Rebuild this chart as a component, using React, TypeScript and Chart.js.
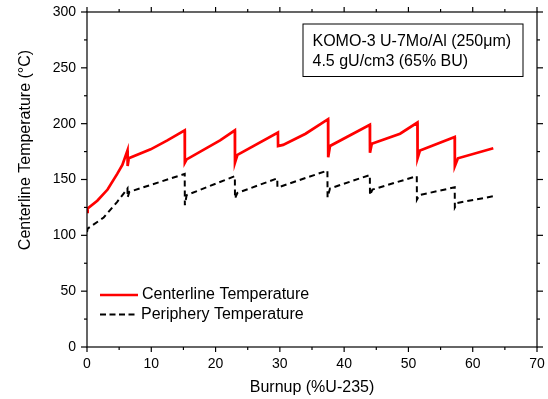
import React, { useEffect, useRef } from 'react';
import { Chart, registerables } from 'chart.js';

Chart.register(...registerables);

// ---- Data ----
const centerBurnup = [0, 0.1, 1.6, 3.2, 4.7, 5.5, 6.3, 6.32, 6.5, 9.9, 12.5, 15.2, 15.22, 15.5, 20.7, 23.0, 23.02, 23.4, 29.7, 29.72, 30.5, 34.0, 37.5, 37.52, 37.8, 44.0, 44.02, 44.3, 48.7, 51.4, 51.42, 51.8, 57.2, 57.22, 57.7, 63.2];
const centerTemp = [121, 124, 131, 141, 155, 163, 176, 162, 169, 177, 185, 194, 165, 168, 185, 194, 165, 172, 192, 180, 181, 191, 204, 170, 180, 199, 174, 182, 191, 201, 169, 176, 188, 162, 169, 178];

const periphBurnup = [0, 0.1, 2.6, 4.7, 6.3, 6.32, 6.6, 15.2, 15.22, 15.5, 23.0, 23.02, 23.4, 29.6, 29.62, 30.0, 37.4, 37.42, 37.8, 44.0, 44.02, 44.4, 51.3, 51.32, 51.7, 57.2, 57.22, 57.6, 63.2];
const periphTemp = [103, 106, 116, 130, 142, 134, 139, 155, 127, 136, 153, 133, 138, 151, 143, 143.5, 158, 134, 142, 154, 136, 141, 153, 132, 136, 143, 125, 129, 135];

const xMinorTicks = [0, 5, 10, 15, 20, 25, 30, 35, 40, 45, 50, 55, 60, 65, 70];
const yMinorTicks = [0, 25, 50, 75, 100, 125, 150, 175, 200, 225, 250, 275, 300];
const xMajorTicks = [0, 10, 20, 30, 40, 50, 60, 70];
const yMajorTicks = [0, 50, 100, 150, 200, 250, 300];

const seriesNames = ['Centerline Temperature', 'Periphery Temperature'];
const noteLines = ['KOMO-3 U-7Mo/Al (250\u03BCm)', '4.5 gU/cm3 (65% BU)'];
const xTitle = 'Burnup (%U-235)';
const yTitle = 'Centerline Temperature (\u00B0C)';

const FONT = '"Liberation Sans", Arial, Helvetica, sans-serif';
const RED = '#ff0000';
const BLACK = '#000000';

const toPoints = (xs: number[], ys: number[]) => xs.map((x, i) => ({ x, y: ys[i] }));

const decorPlugin = {
  id: 'decor',
  afterDraw(chart: any) {
    const { ctx, chartArea } = chart;
    const { left, right, top, bottom } = chartArea;
    const xs = chart.scales.x;
    const ys = chart.scales.y;
    ctx.save();
    // frame
    ctx.strokeStyle = BLACK;
    ctx.lineWidth = 1.2;
    ctx.setLineDash([]);
    ctx.strokeRect(left, top, right - left, bottom - top);
    // ticks
    const tick = (x1: number, y1: number, x2: number, y2: number) => {
      ctx.beginPath();
      ctx.moveTo(x1, y1);
      ctx.lineTo(x2, y2);
      ctx.stroke();
    };
    xMinorTicks.forEach((v) => {
      const len = xMajorTicks.includes(v) ? 5 : 3;
      const px = xs.getPixelForValue(v);
      tick(px, bottom, px, bottom + len);
      tick(px, top, px, top - len);
    });
    yMinorTicks.forEach((v) => {
      const len = yMajorTicks.includes(v) ? 6 : 3;
      const py = ys.getPixelForValue(v);
      tick(left, py, left - len, py);
      tick(right, py, right + len, py);
    });

    // axis titles
    ctx.fillStyle = BLACK;
    ctx.font = `16px ${FONT}`;
    ctx.textAlign = 'center';
    ctx.textBaseline = 'middle';
    ctx.fillText(xTitle, (left + right) / 2, bottom + 41);
    ctx.save();
    ctx.translate(26, top + (bottom - top) * 0.412);
    ctx.rotate(-Math.PI / 2);
    ctx.fillText(yTitle, 0, 0);
    ctx.restore();

    // legend
    const lx = left + 13;
    const ly1 = bottom - 52;
    const ly2 = bottom - 32.5;
    ctx.lineWidth = 2.5;
    ctx.strokeStyle = RED;
    tick(lx, ly1, lx + 38, ly1);
    ctx.lineWidth = 2;
    ctx.strokeStyle = BLACK;
    ctx.setLineDash([6, 3.5]);
    tick(lx, ly2, lx + 38, ly2);
    ctx.setLineDash([]);
    ctx.textAlign = 'left';
    ctx.fillText(seriesNames[0], lx + 42, ly1);
    ctx.fillText(seriesNames[1], lx + 41, ly2);

    // note box
    const bx = right - 234;
    const by = top + 12;
    ctx.lineWidth = 1;
    ctx.strokeRect(bx, by, 220, 52.5);
    ctx.fillText(noteLines[0], bx + 9.5, by + 17.5);
    ctx.fillText(noteLines[1], bx + 9.5, by + 37.5);
    ctx.restore();
  },
};

export default function App() {
  const ref = useRef<HTMLCanvasElement | null>(null);
  useEffect(() => {
    if (!ref.current) return;
    const chart = new Chart(ref.current, {
      type: 'line',
      data: {
        datasets: [
          {
            label: seriesNames[0],
            data: toPoints(centerBurnup, centerTemp),
            borderColor: RED,
            borderWidth: 2.7,
            pointRadius: 0,
            tension: 0,
            fill: false,
          },
          {
            label: seriesNames[1],
            data: toPoints(periphBurnup, periphTemp),
            borderColor: BLACK,
            borderWidth: 2,
            borderDash: [6, 4],
            pointRadius: 0,
            tension: 0,
            fill: false,
          },
        ],
      },
      options: {
        animation: false,
        responsive: false,
        maintainAspectRatio: false,
        layout: { padding: { top: 12, right: 11, left: 0, bottom: 0 } },
        plugins: {
          legend: { display: false },
          tooltip: { enabled: false },
          title: { display: false },
        },
        scales: {
          x: {
            type: 'linear',
            min: 0,
            max: 70,
            grid: { display: false, drawTicks: false },
            border: { display: false },
            ticks: {
              stepSize: 10,
              padding: 9,
              color: BLACK,
              font: { family: FONT, size: 14 },
              maxRotation: 0,
            },
            afterFit: (s: any) => {
              s.height = 52;
              s.paddingLeft = 0;
              s.paddingRight = 0;
            },
          },
          y: {
            type: 'linear',
            min: 0,
            max: 300,
            grid: { display: false, drawTicks: false },
            border: { display: false },
            ticks: {
              stepSize: 50,
              padding: 11,
              color: BLACK,
              font: { family: FONT, size: 14 },
            },
            afterFit: (s: any) => {
              s.width = 87;
              s.paddingTop = 0;
              s.paddingBottom = 0;
            },
          },
        },
      },
      plugins: [decorPlugin],
    } as any);
    return () => chart.destroy();
  }, []);
  return (
    <div style={{ position: 'absolute', left: 0, top: 0, width: 548, height: 399, background: '#fff' }}>
      <canvas ref={ref} width={548} height={399} style={{ display: 'block', width: 548, height: 399 }} />
    </div>
  );
}
